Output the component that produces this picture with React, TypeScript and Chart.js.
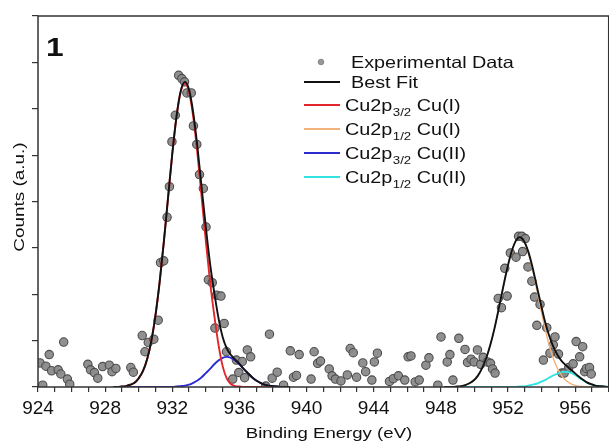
import React, { useEffect, useRef } from 'react';
import { Chart, registerables } from 'chart.js';

Chart.register(...registerables);

// ---- Experimental data (binding energy eV, counts a.u.) ----
const expX = [
  924.12, 924.28, 924.47, 924.67, 924.81, 925.2, 925.36, 925.53, 925.75, 925.89,
  926.97, 927.13, 927.36, 927.56, 927.85, 928.25, 928.41, 928.64, 929.53, 929.68,
  930.21, 930.37, 930.57, 930.9, 931.16, 931.3, 931.49, 931.69, 931.83, 931.98,
  932.18, 932.38, 932.57, 932.73, 932.87, 933.13, 933.26, 933.46, 933.62, 933.85,
  934.01, 934.15, 934.38, 934.54, 934.64, 934.9, 935.09, 935.23, 935.6, 935.82,
  935.96, 936.17, 936.31, 936.47, 936.67, 937.57, 937.79, 937.95, 938.25, 938.63,
  939.03, 939.22, 939.4, 939.56, 940.27, 940.45, 940.66, 940.83, 941.35, 941.52,
  941.72, 942.05, 942.43, 942.6, 942.78, 942.98, 943.35, 943.52, 943.89, 944.04,
  944.22, 944.94, 945.17, 945.47, 945.85, 946.05, 946.22, 946.47, 946.71, 947.11,
  947.29, 947.82, 948.01, 948.38, 948.54, 948.72, 949.07, 949.44, 949.59, 949.8,
  949.98, 950.18, 950.37, 950.52, 950.77, 950.96, 951.08, 951.23, 951.42, 951.61,
  951.81, 951.95, 952.14, 952.48, 952.63, 952.83, 952.87, 953.03, 953.19, 953.42,
  953.58, 953.72, 953.91, 954.11, 954.31, 954.5, 954.7, 954.8, 955.01, 955.21,
  955.35, 955.62, 955.88, 956.06, 956.27, 956.45, 956.57, 956.67, 956.86, 956.96,
];
const expY = [
  0.52, 0.04, 0.45, 0.7, 0.35, 0.37, 0.28, 0.97, 0.17, 0.06,
  0.49, 0.37, 0.31, 0.19, 0.44, 0.47, 0.33, 0.4, 0.42, 0.32,
  1.11, 0.76, 0.96, 1.03, 1.44, 2.68, 2.72, 3.66, 4.32, 5.29,
  5.86, 6.72, 6.65, 6.58, 6.34, 6.34, 5.63, 5.23, 4.58, 4.28,
  3.45, 2.31, 2.25, 1.27, 1.98, 1.96, 1.37, 0.76, 0.17, 0.58,
  0.31, 0.55, 0.2, 0.8, 0.65, 0.02, 1.14, 0.19, 0.32, 0.04,
  0.78, 0.21, 0.25, 0.7, 0.17, 0.76, 0.51, 0.56, 0.39, 0.24,
  0.17, 0.13, 0.26, 0.83, 0.74, 0.21, 0.52, 0.33, 0.15, 0.54,
  0.73, 0.12, 0.18, 0.24, 0.15, 0.65, 0.67, 0.11, 0.15, 0.47,
  0.63, 0.04, 1.08, 0.54, 0.7, 0.15, 1.05, 0.81, 0.53, 0.6,
  0.54, 0.8, 0.49, 0.64, 0.54, 0.51, 0.39, 0.3, 1.91, 1.71,
  2.56, 1.96, 2.89, 2.8, 3.25, 3.25, 2.92, 3.2, 2.59, 2.28,
  1.94, 1.33, 1.78, 0.58, 1.28, 0.73, 0.91, 1.08, 0.71, 0.3,
  0.3, 0.42, 0.5, 0.98, 0.65, 0.87, 0.33, 0.4, 0.42, 0.28,
];

// ---- Fit curves, Cu2p3/2 region ----
const fitX1 = [
  928.5, 928.75, 929, 929.25, 929.5, 929.75, 930, 930.25, 930.5, 930.75,
  931, 931.25, 931.5, 931.75, 932, 932.25, 932.5, 932.75, 933, 933.25,
  933.5, 933.75, 934, 934.25, 934.5, 934.75, 935, 935.25, 935.5, 935.75,
  936, 936.25, 936.5, 936.75, 937, 937.25, 937.5, 937.75, 938, 938.25,
  938.5, 938.75, 939,
];
const bestFit1 = [
  0, 0, 0.01, 0.02, 0.05, 0.09, 0.19, 0.34, 0.6, 0.99,
  1.55, 2.27, 3.14, 4.09, 5.03, 5.83, 6.38, 6.58, 6.41, 5.91,
  5.17, 4.3, 3.44, 2.66, 2.04, 1.49, 1.08, 0.83, 0.69, 0.59,
  0.5, 0.39, 0.3, 0.21, 0.14, 0.09, 0.05, 0.03, 0.02, 0.01,
  0, 0, 0,
];
const cu2p32CuI = [
  0, 0, 0.01, 0.02, 0.05, 0.09, 0.19, 0.34, 0.6, 0.99,
  1.55, 2.27, 3.14, 4.09, 5.03, 5.82, 6.36, 6.55, 6.36, 5.82,
  5.03, 4.09, 3.14, 2.27, 1.55, 0.92, 0.45, 0.18, 0.06, 0.02,
  0.01, 0, 0, 0, 0, 0, 0, 0, 0, 0,
  0, 0, 0,
];
const cu2p32CuII = [
  0, 0, 0, 0, 0, 0, 0, 0, 0, 0,
  0, 0, 0, 0, 0, 0.01, 0.02, 0.03, 0.05, 0.09,
  0.14, 0.21, 0.3, 0.39, 0.49, 0.57, 0.63, 0.65, 0.63, 0.57,
  0.49, 0.39, 0.3, 0.21, 0.14, 0.09, 0.05, 0.03, 0.02, 0.01,
  0, 0, 0,
];

// ---- Fit curves, Cu2p1/2 region ----
const fitX2 = [
  948.2, 948.45, 948.7, 948.95, 949.2, 949.45, 949.7, 949.95, 950.2, 950.45,
  950.7, 950.95, 951.2, 951.45, 951.7, 951.95, 952.2, 952.45, 952.7, 952.95,
  953.2, 953.45, 953.7, 953.95, 954.2, 954.45, 954.7, 954.95, 955.2, 955.45,
  955.7, 955.95, 956.2, 956.45, 956.7, 956.95, 957.2, 957.45, 957.7, 957.95,
];
const bestFit2 = [
  0, 0, 0, 0.01, 0.02, 0.04, 0.08, 0.14, 0.24, 0.4,
  0.62, 0.91, 1.27, 1.69, 2.13, 2.55, 2.9, 3.14, 3.23, 3.15,
  2.93, 2.6, 2.2, 1.8, 1.42, 1.11, 0.87, 0.69, 0.56, 0.47,
  0.39, 0.31, 0.23, 0.16, 0.1, 0.06, 0.03, 0.02, 0.01, 0,
];
const cu2p12CuI = [
  0, 0, 0, 0.01, 0.02, 0.04, 0.08, 0.14, 0.24, 0.4,
  0.62, 0.91, 1.27, 1.69, 2.13, 2.55, 2.9, 3.14, 3.22, 3.14,
  2.9, 2.55, 2.13, 1.69, 1.27, 0.91, 0.62, 0.4, 0.24, 0.14,
  0.08, 0.04, 0.02, 0.01, 0, 0, 0, 0, 0, 0,
];
const cu2p12CuII = [
  0, 0, 0, 0, 0, 0, 0, 0, 0, 0,
  0, 0, 0, 0, 0, 0, 0, 0, 0.01, 0.01,
  0.03, 0.05, 0.07, 0.11, 0.15, 0.2, 0.25, 0.29, 0.32, 0.33,
  0.31, 0.27, 0.21, 0.15, 0.1, 0.06, 0.03, 0.02, 0.01, 0,
];

const xTickLabels = [924, 928, 932, 936, 940, 944, 948, 952, 956];

const BLACK = '#111111';
const RED = '#e3262b';
const ORANGE = '#f2b27c';
const BLUE = '#2b2bd0';
const CYAN = '#34e2e2';
const FONT = '"Liberation Sans", Arial, Helvetica, sans-serif';

const legendItems = [
  { kind: 'point', color: '#999999', main: 'Experimental Data', sub: '', tail: '' },
  { kind: 'line', color: BLACK, main: 'Best Fit', sub: '', tail: '' },
  { kind: 'line', color: RED, main: 'Cu2p', sub: '3/2', tail: ' Cu(I)' },
  { kind: 'line', color: ORANGE, main: 'Cu2p', sub: '1/2', tail: ' Cu(I)' },
  { kind: 'line', color: BLUE, main: 'Cu2p', sub: '3/2', tail: ' Cu(II)' },
  { kind: 'line', color: CYAN, main: 'Cu2p', sub: '1/2', tail: ' Cu(II)' },
];

function pairs(xs: number[], ys: number[]) {
  return xs.map((x, i) => ({ x, y: ys[i] }));
}

function stretchText(ctx: CanvasRenderingContext2D, text: string, x: number, y: number, sx: number) {
  ctx.save();
  ctx.translate(x, y);
  ctx.scale(sx, 1);
  ctx.fillText(text, 0, 0);
  const w = ctx.measureText(text).width * sx;
  ctx.restore();
  return w;
}

const decorPlugin = {
  id: 'decor',
  afterDraw(chart: any) {
    const ctx: CanvasRenderingContext2D = chart.ctx;
    const a = chart.chartArea;
    ctx.save();
    // frame
    ctx.strokeStyle = '#333333';
    ctx.lineWidth = 1.5;
    ctx.strokeRect(a.left, a.top, a.right - a.left, a.bottom - a.top);

    ctx.fillStyle = '#111111';
    ctx.textBaseline = 'alphabetic';
    ctx.textAlign = 'left';

    // panel label
    ctx.font = `bold 26px ${FONT}`;
    stretchText(ctx, '1', 46, 56, 1.22);

    // legend
    const rowsY = [62, 82, 105, 129, 153, 177];
    const SX = 1.2;
    legendItems.forEach((it, i) => {
      const cy = rowsY[i];
      if (it.kind === 'point') {
        ctx.beginPath();
        ctx.arc(321, cy, 2.8, 0, Math.PI * 2);
        ctx.fillStyle = it.color;
        ctx.fill();
        ctx.lineWidth = 0.8;
        ctx.strokeStyle = '#777777';
        ctx.stroke();
      } else {
        ctx.beginPath();
        ctx.moveTo(304, cy);
        ctx.lineTo(340, cy);
        ctx.strokeStyle = it.color;
        ctx.lineWidth = 2;
        ctx.stroke();
      }
      ctx.fillStyle = '#111111';
      const base = cy + 6;
      let x = it.sub ? 345 : 351;
      ctx.font = `16.5px ${FONT}`;
      x += stretchText(ctx, it.main, x, base, SX);
      if (it.sub) {
        ctx.font = `11px ${FONT}`;
        x += stretchText(ctx, it.sub, x + 0.5, base + 4.5, SX) + 0.5;
        ctx.font = `16.5px ${FONT}`;
        stretchText(ctx, it.tail, x, base, SX);
      }
    });

    // x title
    ctx.font = `15.5px ${FONT}`;
    ctx.textAlign = 'center';
    stretchText(ctx, 'Binding Energy (eV)', 329, 438, 1.2);

    // y title
    ctx.save();
    ctx.translate(23.5, 197);
    ctx.rotate(-Math.PI / 2);
    ctx.scale(1.22, 1);
    ctx.textAlign = 'center';
    ctx.fillText('Counts (a.u.)', 0, 0);
    ctx.restore();

    ctx.restore();
  },
};

export default function App() {
  const ref = useRef<HTMLCanvasElement>(null);
  useEffect(() => {
    const canvas = ref.current;
    if (!canvas) return;
    const lineDs = (label: string, xs: number[], ys: number[], color: string, order: number, width = 1.9) => ({
      label,
      data: pairs(xs, ys),
      showLine: true,
      borderColor: color,
      backgroundColor: color,
      borderWidth: width,
      pointRadius: 0,
      pointHoverRadius: 0,
      cubicInterpolationMode: 'monotone' as const,
      order,
    });
    const chart = new Chart(canvas, {
      type: 'scatter',
      data: {
        datasets: [
          lineDs('Best Fit', fitX1, bestFit1, BLACK, 0),
          lineDs('Best Fit 2', fitX2, bestFit2, BLACK, 0),
          lineDs('Cu2p3/2 Cu(I)', fitX1, cu2p32CuI, RED, 1),
          lineDs('Cu2p1/2 Cu(I)', fitX2, cu2p12CuI, ORANGE, 1, 1.4),
          lineDs('Cu2p3/2 Cu(II)', fitX1, cu2p32CuII, BLUE, 2),
          lineDs('Cu2p1/2 Cu(II)', fitX2, cu2p12CuII, CYAN, 2),
          {
            label: 'Experimental Data',
            data: pairs(expX, expY),
            pointRadius: 4.2,
            pointBorderWidth: 1.1,
            backgroundColor: 'rgba(138,138,138,0.95)',
            borderColor: '#4d4d4d',
            order: 10,
          } as any,
        ],
      },
      options: {
        animation: false,
        responsive: false,
        devicePixelRatio: 1,
        layout: { padding: { top: 16, left: 0, right: 0, bottom: 0 } },
        plugins: { legend: { display: false }, tooltip: { enabled: false } },
        scales: {
          x: {
            type: 'linear',
            min: 924,
            max: 958,
            afterFit: (s: any) => { s.height = 56; },
            ticks: {
              stepSize: 1,
              autoSkip: false,
              maxRotation: 0,
              minRotation: 0,
              padding: 5,
              color: '#111111',
              font: { family: FONT, size: 19 },
              callback: (v: any) => {
                const r = Math.round(Number(v));
                return Math.abs(Number(v) - r) < 1e-6 && xTickLabels.includes(r) ? String(r) : '';
              },
            },
            grid: { drawOnChartArea: false, drawTicks: true, tickLength: 5, color: '#333333', lineWidth: 1.2 },
            border: { display: false },
          },
          y: {
            type: 'linear',
            min: 0,
            max: 8,
            afterFit: (s: any) => { s.width = 38; },
            ticks: { stepSize: 1, display: false },
            grid: { drawOnChartArea: false, drawTicks: true, tickLength: 6, color: '#333333', lineWidth: 1.2 },
            border: { display: false },
          },
        },
      } as any,
      plugins: [decorPlugin],
    });
    return () => chart.destroy();
  }, []);
  return (
    <div style={{ position: 'fixed', left: 0, top: 0, width: 609, height: 443, overflow: 'hidden', background: '#ffffff' }}>
      <canvas ref={ref} width={614} height={443} style={{ display: 'block', width: 614, height: 443 }} />
    </div>
  );
}
